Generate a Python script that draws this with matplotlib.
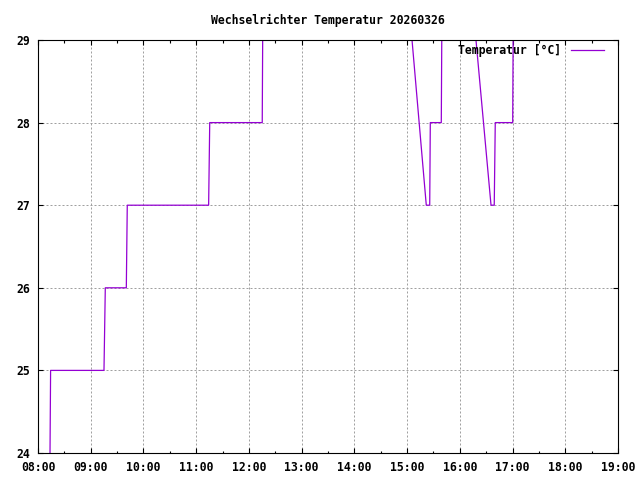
import pandas as pd
import matplotlib
matplotlib.use("Agg")
import matplotlib.pyplot as plt
import matplotlib.dates as mdates

day = "2026-03-26"

# readings (time of day, degC) - values above 29 run off the top of the chart
times = ["08:13:40", "08:14:20", "09:15:05", "09:16:35", "09:40:30", "09:41:35",
         "11:14:10", "11:15:25", "12:15:10", "12:16:10", "12:45:00", "13:30:00",
         "14:15:00", "14:57:30", "15:21:50", "15:25:45", "15:26:25", "15:38:55",
         "15:40:00", "15:55:00", "16:09:50", "16:35:30", "16:39:10", "16:40:20",
         "17:00:10", "17:01:10"]
temps = [24, 25, 25, 26, 26, 27,
         27, 28, 28, 30, 31, 32,
         31.5, 30, 27, 27, 28, 28,
         30, 30.5, 30, 27, 27, 28,
         28, 30]

x = pd.to_datetime([f"{day} {t}" for t in times])

plt.rcParams["font.family"] = "DejaVu Sans Mono"
plt.rcParams["font.weight"] = "bold"
plt.rcParams["font.size"] = 8.3

fig = plt.figure(figsize=(6.4, 4.8), dpi=100)
ax = fig.add_axes([38 / 640, 1 - 453 / 480, 580 / 640, 413 / 480])

ax.plot(x, temps, color="#9400d3", lw=0.9, label="Temperatur [°C]")

ax.set_xlim(pd.Timestamp(f"{day} 08:00"), pd.Timestamp(f"{day} 19:00"))
ax.set_ylim(24, 29)
ax.xaxis.set_major_locator(mdates.HourLocator())
ax.xaxis.set_minor_locator(mdates.MinuteLocator(byminute=30))
ax.xaxis.set_major_formatter(mdates.DateFormatter("%H:%M"))
ax.set_yticks([24, 25, 26, 27, 28, 29])

ax.grid(True, which="major", color="#a0a0a0", lw=0.72, linestyle=(0, (2, 2)))
ax.tick_params(which="major", direction="in", length=3.6, width=0.8,
               top=True, right=True)
ax.tick_params(axis="x", which="major", pad=5.5)
ax.tick_params(axis="y", which="major", pad=6)
ax.tick_params(which="minor", direction="in", length=1.8, width=0.8,
               top=True, right=False, left=False)
for s in ax.spines.values():
    s.set_linewidth(0.8)

ax.set_title("Wechselrichter Temperatur 20260326", fontsize=8.3,
             fontweight="bold", pad=11.5)
ax.legend(loc="upper right", frameon=False, markerfirst=False,
          handlelength=2.9, handletextpad=0.8, borderaxespad=0.3,
          bbox_to_anchor=(1 - 6 / 580, 1 + 4 / 413))

fig.savefig("out.png", dpi=100)
